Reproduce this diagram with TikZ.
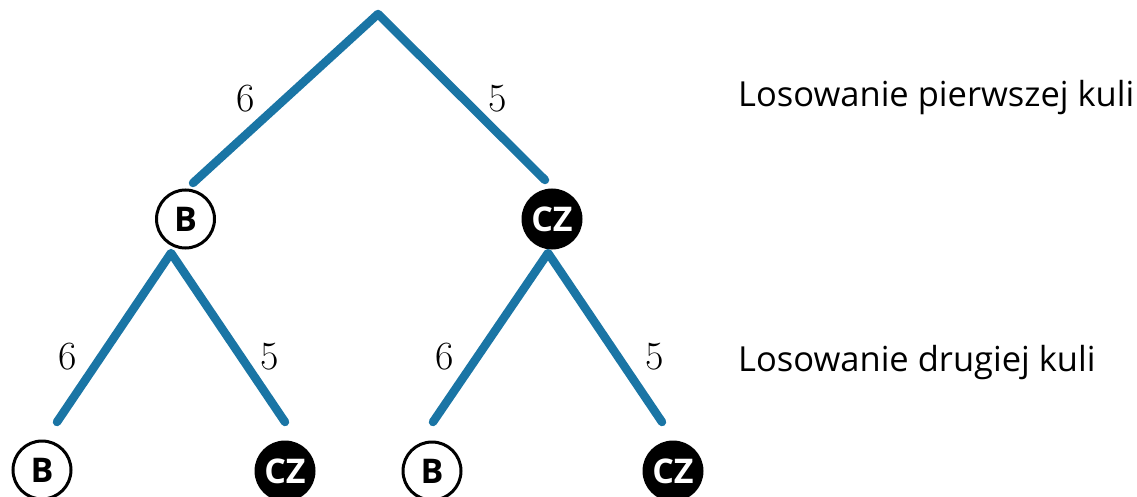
\documentclass[tikz,border=0pt]{standalone}
\usepackage{fontspec}
\newfontfamily\os{Open Sans}
\definecolor{branch}{RGB}{26,117,165}
\tikzset{
  branchline/.style={draw=branch, line width=8.5pt, line cap=round, line join=round},
  whiteball/.style={circle, draw=black, line width=3pt, fill=white, minimum size=58pt, inner sep=0pt, font=\os\bfseries\fontsize{34}{40}\selectfont, text=black},
  blackball/.style={circle, draw=black, line width=3pt, fill=black, minimum size=58pt, inner sep=0pt, font=\os\bfseries\fontsize{34}{40}\selectfont, text=white},
  count/.style={font=\fontsize{40}{48}\selectfont, inner sep=0pt},
  caption/.style={font=\os\fontsize{34.5}{42}\selectfont, anchor=base west, inner sep=0pt}
}
\begin{document}
\begin{tikzpicture}[x=1pt,y=-1pt]
\useasboundingbox (0,0) rectangle (1137,497);
% nodes
\node[whiteball] (B1) at (185.5,219) {B};
\node[blackball] (C1) at (552,219) {CZ};
\node[whiteball] (B2) at (42,470) {B};
\node[blackball] (C2) at (285,471) {CZ};
\node[whiteball] (B3) at (432,471) {B};
\node[blackball] (C3) at (673,471) {CZ};
% branch points
\coordinate (top) at (378,14);
\coordinate (t1) at (193,183);
\coordinate (t2) at (545,180);
\coordinate (b1) at (171,253);
\coordinate (b1l) at (57,422);
\coordinate (b1r) at (285,422);
\coordinate (c1) at (548,253);
\coordinate (c1l) at (433,422);
\coordinate (c1r) at (662,422);
\draw[branchline] (t1) -- (top) -- (t2);
\draw[branchline] (b1l) -- (b1) -- (b1r);
\draw[branchline] (c1l) -- (c1) -- (c1r);
% counts
\node[count] (n1) at (245.5,98.5) {6};
\node[count] (n2) at (498,98.5) {5};
\node[count] (n3) at (67.5,357) {6};
\node[count] (n4) at (270,357) {5};
\node[count] (n5) at (445,357) {6};
\node[count] (n6) at (655,357) {5};
% captions
\node[caption] (cap1) at (738,107) {Losowanie pierwszej kuli};
\node[caption] (cap2) at (738,371) {Losowanie drugiej kuli};
\end{tikzpicture}
\end{document}
